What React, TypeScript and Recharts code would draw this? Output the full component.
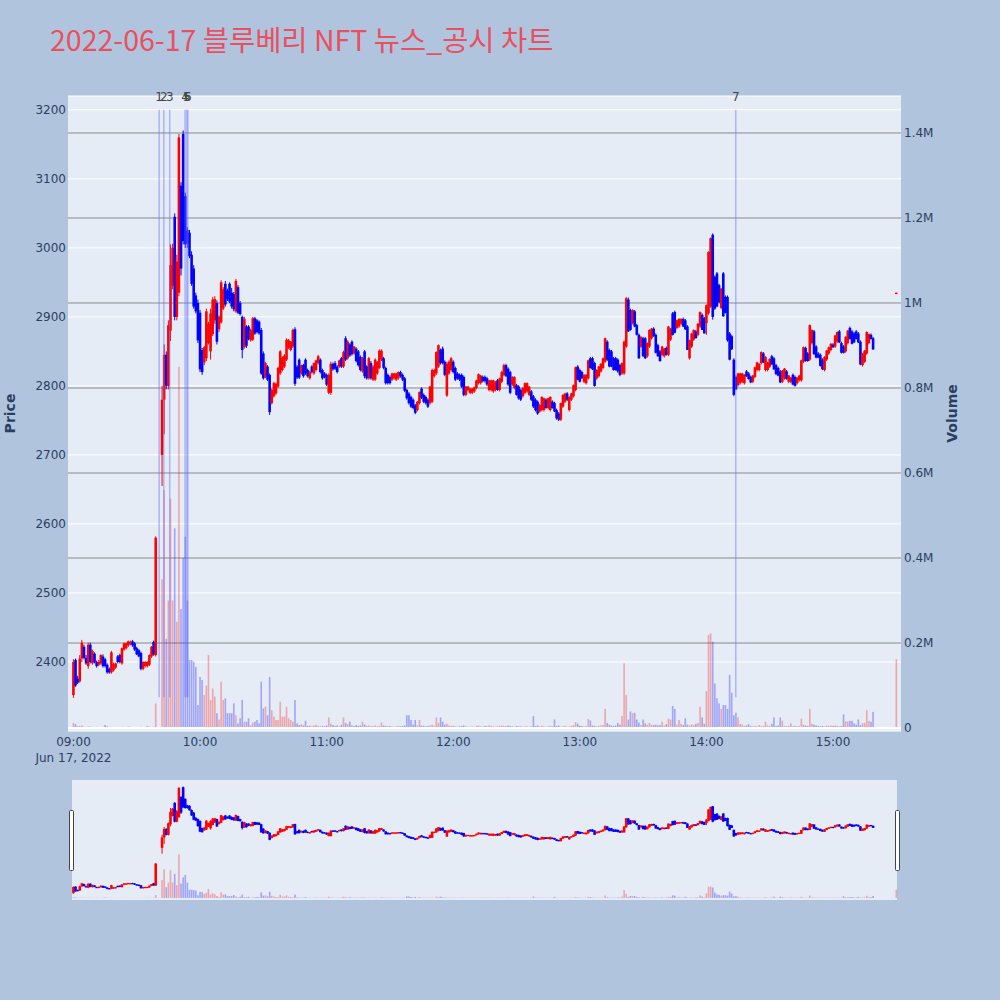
import { ComposedChart, Bar, XAxis, YAxis, CartesianGrid, ReferenceLine } from "recharts";

// [minute of hour, open, high, low, close, volume (thousand shares)]
type Candle = [number, number, number, number, number, number];

const h09: Candle[] = [
  [0, 2352, 2404, 2348, 2400, 12], [1, 2403, 2405, 2364, 2366, 9], [2, 2376, 2380, 2368, 2370, 4],
  [3, 2372, 2410, 2370, 2405, 5], [4, 2405, 2432, 2400, 2428, 6], [5, 2422, 2425, 2404, 2406, 3],
  [6, 2406, 2410, 2396, 2398, 2], [7, 2394, 2428, 2390, 2425, 4], [8, 2425, 2428, 2398, 2400, 3],
  [9, 2398, 2418, 2396, 2416, 2], [10, 2412, 2414, 2398, 2400, 2], [11, 2400, 2402, 2392, 2394, 3],
  [12, 2396, 2403, 2394, 2400, 2], [13, 2398, 2411, 2396, 2410, 2], [14, 2408, 2411, 2392, 2394, 3],
  [15, 2404, 2406, 2392, 2394, 7], [16, 2396, 2398, 2383, 2385, 4], [17, 2390, 2392, 2383, 2385, 2],
  [18, 2385, 2416, 2383, 2414, 3], [19, 2388, 2399, 2386, 2397, 2], [20, 2392, 2399, 2390, 2398, 2],
  [21, 2408, 2410, 2398, 2400, 2], [22, 2410, 2412, 2398, 2400, 2], [23, 2398, 2421, 2396, 2420, 3],
  [24, 2418, 2428, 2416, 2427, 3], [25, 2420, 2428, 2418, 2427, 2], [26, 2424, 2431, 2422, 2430, 4],
  [27, 2426, 2431, 2424, 2429, 3], [28, 2430, 2432, 2422, 2424, 2], [29, 2427, 2429, 2416, 2418, 2],
  [30, 2420, 2422, 2410, 2411, 2], [31, 2417, 2419, 2407, 2408, 2], [32, 2413, 2415, 2388, 2390, 3],
  [33, 2390, 2401, 2388, 2400, 2], [34, 2394, 2401, 2392, 2400, 2], [35, 2394, 2401, 2392, 2400, 5],
  [36, 2396, 2411, 2394, 2410, 3], [37, 2408, 2423, 2406, 2422, 2], [38, 2429, 2431, 2409, 2411, 3],
  [39, 2410, 2582, 2408, 2580, 58],
  [42, 2700, 2800, 2655, 2780, 350], [43, 2780, 2860, 2730, 2845, 560], [44, 2845, 2850, 2795, 2800, 210],
  [45, 2800, 2895, 2795, 2888, 300], [46, 2880, 3005, 2865, 2975, 540], [47, 2945, 3006, 2940, 3000, 300],
  [48, 3045, 3050, 2895, 2900, 470], [49, 2900, 2990, 2895, 2980, 250], [50, 2935, 3165, 2930, 3160, 850],
  [51, 3090, 3095, 2960, 2970, 280], [52, 3165, 3170, 3005, 3010, 400], [53, 3075, 3080, 3000, 3005, 450],
  [54, 3026, 3030, 3000, 3006, 300], [55, 3022, 3026, 2985, 2988, 160], [56, 2990, 2995, 2945, 2948, 160],
  [57, 2970, 2975, 2912, 2915, 156], [58, 2931, 2935, 2905, 2908, 144], [59, 2920, 2925, 2862, 2866, 54],
];

const h10: Candle[] = [
  [0, 2906, 2910, 2820, 2824, 120], [1, 2852, 2855, 2816, 2820, 113], [2, 2834, 2858, 2830, 2856, 78],
  [3, 2840, 2912, 2836, 2908, 100], [4, 2862, 2893, 2860, 2890, 172], [5, 2850, 2912, 2838, 2905, 66],
  [6, 2875, 2929, 2872, 2925, 93], [7, 2895, 2930, 2890, 2926, 74], [8, 2920, 2924, 2860, 2864, 35],
  [9, 2882, 2902, 2878, 2900, 20], [10, 2892, 2953, 2890, 2950, 109], [11, 2912, 2943, 2910, 2940, 66],
  [12, 2948, 2952, 2915, 2918, 70], [13, 2938, 2941, 2923, 2926, 35], [14, 2948, 2950, 2920, 2922, 35],
  [15, 2935, 2942, 2912, 2915, 35], [16, 2933, 2936, 2908, 2911, 58], [17, 2908, 2955, 2906, 2952, 30],
  [18, 2943, 2946, 2904, 2906, 11], [19, 2920, 2923, 2902, 2904, 23], [20, 2900, 2902, 2840, 2852, 66],
  [21, 2856, 2900, 2854, 2897, 15], [22, 2886, 2888, 2855, 2858, 15], [23, 2886, 2888, 2866, 2868, 23],
  [24, 2866, 2883, 2864, 2881, 7], [25, 2867, 2900, 2865, 2898, 13], [26, 2898, 2900, 2874, 2876, 15],
  [27, 2895, 2897, 2876, 2878, 19], [28, 2893, 2895, 2874, 2876, 11], [29, 2881, 2884, 2816, 2818, 109],
  [30, 2847, 2850, 2809, 2811, 46], [31, 2813, 2835, 2811, 2833, 50], [32, 2828, 2830, 2807, 2809, 30],
  [33, 2816, 2818, 2758, 2762, 120], [34, 2775, 2796, 2773, 2794, 42], [35, 2785, 2806, 2783, 2804, 27],
  [36, 2789, 2805, 2787, 2803, 19], [37, 2799, 2828, 2797, 2826, 19], [38, 2818, 2852, 2816, 2850, 62],
  [39, 2823, 2843, 2821, 2841, 27], [40, 2828, 2846, 2826, 2844, 27], [41, 2838, 2869, 2836, 2867, 50],
  [42, 2855, 2868, 2853, 2866, 23], [43, 2852, 2865, 2850, 2864, 19], [44, 2857, 2883, 2855, 2881, 15],
  [45, 2882, 2885, 2800, 2803, 66], [46, 2828, 2830, 2810, 2812, 11], [47, 2838, 2840, 2810, 2812, 7],
  [48, 2818, 2831, 2816, 2830, 9], [49, 2830, 2832, 2812, 2814, 6], [50, 2838, 2840, 2816, 2818, 17],
  [51, 2823, 2825, 2812, 2814, 5], [52, 2811, 2822, 2809, 2820, 6], [53, 2828, 2830, 2818, 2820, 4],
  [54, 2818, 2834, 2816, 2833, 6], [55, 2823, 2838, 2821, 2837, 8], [56, 2833, 2845, 2831, 2843, 5],
  [57, 2838, 2840, 2818, 2820, 4], [58, 2823, 2825, 2809, 2811, 5], [59, 2818, 2820, 2811, 2813, 4],
];

const h11: Candle[] = [
  [0, 2816, 2818, 2800, 2802, 6], [1, 2790, 2818, 2788, 2816, 25], [2, 2790, 2835, 2787, 2832, 10],
  [3, 2832, 2834, 2822, 2824, 7], [4, 2833, 2836, 2823, 2825, 5], [5, 2828, 2830, 2818, 2820, 6],
  [6, 2828, 2838, 2826, 2837, 4], [7, 2840, 2842, 2826, 2828, 8], [8, 2828, 2851, 2826, 2849, 25],
  [9, 2869, 2872, 2836, 2838, 12], [10, 2840, 2866, 2838, 2864, 9], [11, 2860, 2862, 2842, 2844, 15],
  [12, 2864, 2866, 2844, 2846, 6], [13, 2847, 2858, 2845, 2857, 5], [14, 2854, 2856, 2834, 2836, 7],
  [15, 2850, 2852, 2828, 2830, 5], [16, 2842, 2844, 2821, 2823, 6], [17, 2821, 2842, 2819, 2840, 15],
  [18, 2850, 2852, 2811, 2814, 8], [19, 2828, 2830, 2809, 2811, 5], [20, 2811, 2842, 2809, 2840, 6],
  [21, 2833, 2836, 2809, 2811, 4], [22, 2809, 2830, 2807, 2828, 5], [23, 2809, 2840, 2807, 2838, 6],
  [24, 2818, 2836, 2816, 2835, 4], [25, 2826, 2853, 2824, 2851, 5], [26, 2838, 2853, 2836, 2851, 13],
  [27, 2840, 2842, 2824, 2826, 6], [28, 2826, 2828, 2802, 2804, 5], [29, 2816, 2818, 2802, 2804, 4],
  [30, 2813, 2815, 2802, 2804, 5], [31, 2809, 2819, 2807, 2818, 4], [32, 2811, 2819, 2809, 2818, 3],
  [33, 2809, 2819, 2807, 2818, 4], [34, 2811, 2821, 2809, 2820, 5], [35, 2820, 2822, 2812, 2814, 4],
  [36, 2816, 2818, 2807, 2809, 5], [37, 2811, 2813, 2791, 2793, 6], [38, 2794, 2796, 2780, 2782, 30],
  [39, 2789, 2791, 2773, 2775, 30], [40, 2784, 2786, 2768, 2770, 19], [41, 2780, 2782, 2766, 2768, 8],
  [42, 2772, 2774, 2759, 2761, 19], [43, 2765, 2778, 2763, 2777, 6], [44, 2775, 2792, 2773, 2791, 19],
  [45, 2796, 2798, 2781, 2783, 6], [46, 2787, 2789, 2775, 2777, 5], [47, 2784, 2786, 2773, 2775, 4],
  [48, 2780, 2782, 2768, 2770, 5], [49, 2775, 2800, 2773, 2799, 6], [50, 2777, 2825, 2775, 2823, 8],
  [51, 2814, 2825, 2812, 2823, 5], [52, 2818, 2850, 2816, 2849, 25], [53, 2828, 2860, 2826, 2859, 12],
  [54, 2852, 2854, 2831, 2833, 25], [55, 2854, 2857, 2831, 2833, 15], [56, 2835, 2837, 2814, 2816, 8],
  [57, 2786, 2835, 2784, 2832, 10], [58, 2818, 2837, 2816, 2835, 6], [59, 2823, 2842, 2821, 2840, 5],
];

const h12: Candle[] = [
  [0, 2835, 2837, 2818, 2820, 5], [1, 2826, 2828, 2807, 2809, 4], [2, 2818, 2820, 2809, 2811, 3],
  [3, 2816, 2818, 2807, 2809, 4], [4, 2816, 2818, 2797, 2799, 5], [5, 2813, 2815, 2785, 2787, 6],
  [6, 2787, 2800, 2785, 2799, 4], [7, 2794, 2800, 2792, 2799, 3], [8, 2790, 2797, 2788, 2796, 3],
  [9, 2790, 2797, 2788, 2796, 4], [10, 2792, 2799, 2790, 2798, 3], [11, 2797, 2809, 2795, 2808, 5],
  [12, 2804, 2818, 2802, 2817, 6], [13, 2804, 2816, 2802, 2815, 4], [14, 2813, 2815, 2805, 2807, 3],
  [15, 2813, 2815, 2805, 2807, 5], [16, 2811, 2813, 2800, 2802, 4], [17, 2794, 2809, 2792, 2808, 6],
  [18, 2794, 2809, 2792, 2808, 5], [19, 2792, 2809, 2790, 2808, 4], [20, 2794, 2807, 2792, 2806, 3],
  [21, 2808, 2810, 2793, 2794, 4], [22, 2794, 2812, 2792, 2811, 5], [23, 2806, 2822, 2804, 2820, 6],
  [24, 2816, 2832, 2814, 2830, 5], [25, 2830, 2832, 2813, 2814, 4], [26, 2825, 2827, 2800, 2802, 6],
  [27, 2820, 2822, 2788, 2790, 5], [28, 2802, 2814, 2800, 2813, 4], [29, 2797, 2814, 2795, 2813, 3],
  [30, 2801, 2803, 2786, 2787, 5], [31, 2799, 2801, 2780, 2782, 4], [32, 2794, 2796, 2778, 2780, 4],
  [33, 2785, 2798, 2783, 2797, 3], [34, 2790, 2805, 2788, 2804, 4], [35, 2792, 2805, 2790, 2804, 4],
  [36, 2787, 2800, 2785, 2799, 3], [37, 2792, 2794, 2778, 2780, 4], [38, 2785, 2787, 2768, 2770, 28],
  [39, 2780, 2782, 2763, 2765, 5], [40, 2777, 2779, 2758, 2760, 6], [41, 2763, 2774, 2761, 2772, 4],
  [42, 2765, 2785, 2763, 2784, 5], [43, 2765, 2783, 2763, 2782, 4], [44, 2780, 2782, 2767, 2768, 3],
  [45, 2768, 2783, 2766, 2782, 4], [46, 2765, 2785, 2763, 2784, 5], [47, 2777, 2779, 2767, 2768, 4],
  [48, 2775, 2777, 2762, 2763, 20], [49, 2765, 2767, 2751, 2753, 5], [50, 2760, 2762, 2749, 2751, 6],
  [51, 2751, 2776, 2749, 2775, 3], [52, 2770, 2788, 2768, 2787, 4], [53, 2777, 2790, 2775, 2789, 5],
  [54, 2789, 2791, 2778, 2780, 3], [55, 2765, 2785, 2763, 2784, 4], [56, 2780, 2790, 2778, 2789, 5],
  [57, 2785, 2802, 2783, 2801, 6], [58, 2794, 2828, 2792, 2827, 14], [59, 2828, 2830, 2808, 2809, 10],
];

const h13: Candle[] = [
  [0, 2823, 2825, 2805, 2806, 5], [1, 2820, 2822, 2810, 2811, 5], [2, 2806, 2817, 2804, 2816, 4],
  [3, 2804, 2817, 2802, 2816, 5], [4, 2811, 2838, 2809, 2837, 21], [5, 2840, 2842, 2825, 2826, 18],
  [6, 2840, 2842, 2823, 2824, 6], [7, 2833, 2835, 2799, 2800, 5], [8, 2811, 2824, 2809, 2823, 4],
  [9, 2814, 2829, 2812, 2828, 5], [10, 2821, 2833, 2819, 2832, 6], [11, 2826, 2841, 2824, 2840, 7],
  [12, 2835, 2870, 2833, 2869, 45], [13, 2864, 2866, 2836, 2838, 12], [14, 2852, 2854, 2827, 2828, 8],
  [15, 2850, 2852, 2827, 2828, 6], [16, 2840, 2842, 2822, 2823, 5], [17, 2840, 2842, 2822, 2823, 6],
  [18, 2838, 2840, 2819, 2821, 12], [19, 2830, 2832, 2814, 2816, 8], [20, 2818, 2834, 2816, 2833, 28],
  [21, 2818, 2866, 2816, 2864, 152], [22, 2857, 2929, 2855, 2927, 78], [23, 2925, 2928, 2878, 2879, 20],
  [24, 2910, 2912, 2880, 2881, 39], [25, 2891, 2911, 2889, 2910, 35], [26, 2908, 2910, 2885, 2886, 36],
  [27, 2888, 2890, 2873, 2874, 20], [28, 2874, 2876, 2839, 2840, 13], [29, 2857, 2872, 2855, 2871, 7],
  [30, 2869, 2871, 2842, 2843, 20], [31, 2869, 2871, 2839, 2840, 11], [32, 2843, 2863, 2841, 2862, 8],
  [33, 2857, 2882, 2855, 2881, 12], [34, 2869, 2884, 2867, 2883, 8], [35, 2883, 2885, 2871, 2872, 7],
  [36, 2874, 2876, 2847, 2848, 8], [37, 2859, 2861, 2842, 2843, 6], [38, 2850, 2852, 2835, 2836, 7],
  [39, 2845, 2858, 2843, 2857, 15], [40, 2843, 2855, 2841, 2854, 6], [41, 2855, 2857, 2844, 2845, 9],
  [42, 2845, 2887, 2843, 2886, 22], [43, 2867, 2884, 2865, 2883, 20], [44, 2905, 2907, 2873, 2874, 52],
  [45, 2907, 2909, 2876, 2877, 45], [46, 2884, 2896, 2882, 2895, 8], [47, 2886, 2898, 2884, 2897, 19],
  [48, 2890, 2898, 2888, 2897, 10], [49, 2897, 2899, 2885, 2886, 7], [50, 2895, 2897, 2881, 2882, 23],
  [51, 2886, 2888, 2852, 2852, 8], [52, 2840, 2867, 2838, 2866, 6], [53, 2857, 2877, 2855, 2876, 9],
  [54, 2867, 2882, 2865, 2881, 7], [55, 2879, 2881, 2869, 2869, 10], [56, 2874, 2891, 2872, 2890, 12],
  [57, 2886, 2908, 2884, 2907, 50], [58, 2903, 2905, 2881, 2881, 25], [59, 2898, 2900, 2876, 2876, 10],
];

const h14: Candle[] = [
  [0, 2891, 2918, 2874, 2917, 87], [1, 2905, 2995, 2903, 2994, 219], [2, 2915, 3015, 2913, 3014, 223],
  [3, 3019, 3021, 2896, 2900, 203], [4, 2958, 2960, 2910, 2912, 105], [5, 2963, 2965, 2914, 2915, 70],
  [6, 2946, 2948, 2920, 2921, 58], [7, 2913, 2942, 2911, 2941, 45], [8, 2963, 2965, 2900, 2901, 54],
  [9, 2929, 2931, 2905, 2906, 54], [10, 2929, 2931, 2864, 2866, 45], [11, 2876, 2878, 2837, 2838, 125],
  [12, 2872, 2874, 2852, 2853, 83], [13, 2838, 2840, 2785, 2787, 30], [14, 2813, 2815, 2794, 2795, 36],
  [15, 2801, 2819, 2799, 2818, 25], [16, 2804, 2819, 2802, 2818, 10], [17, 2806, 2819, 2804, 2818, 8],
  [18, 2804, 2817, 2802, 2816, 5], [19, 2821, 2823, 2813, 2814, 6], [20, 2818, 2820, 2809, 2810, 9],
  [21, 2813, 2815, 2804, 2805, 5], [22, 2806, 2816, 2804, 2815, 4], [23, 2813, 2828, 2811, 2827, 5],
  [24, 2823, 2835, 2821, 2834, 4], [25, 2823, 2833, 2821, 2832, 7], [26, 2833, 2850, 2831, 2849, 5],
  [27, 2847, 2849, 2833, 2834, 4], [28, 2823, 2843, 2821, 2842, 15], [29, 2823, 2835, 2821, 2834, 6],
  [30, 2828, 2840, 2826, 2839, 5], [31, 2843, 2845, 2830, 2831, 10], [32, 2840, 2842, 2823, 2824, 25],
  [33, 2830, 2832, 2816, 2817, 5], [34, 2826, 2828, 2814, 2815, 6], [35, 2821, 2823, 2804, 2805, 25],
  [36, 2806, 2823, 2804, 2822, 17], [37, 2811, 2826, 2809, 2825, 5], [38, 2821, 2823, 2809, 2810, 4],
  [39, 2806, 2816, 2804, 2815, 5], [40, 2806, 2813, 2804, 2812, 11], [41, 2816, 2818, 2801, 2802, 4],
  [42, 2813, 2815, 2799, 2800, 5], [43, 2804, 2813, 2802, 2812, 4], [44, 2808, 2816, 2806, 2815, 5],
  [45, 2808, 2838, 2806, 2837, 22], [46, 2835, 2857, 2833, 2856, 8], [47, 2855, 2857, 2835, 2836, 6],
  [48, 2847, 2849, 2835, 2836, 5], [49, 2838, 2889, 2836, 2888, 45], [50, 2862, 2882, 2860, 2881, 10],
  [51, 2879, 2881, 2845, 2846, 8], [52, 2857, 2859, 2840, 2841, 6], [53, 2847, 2849, 2840, 2841, 5],
  [54, 2845, 2847, 2828, 2829, 4], [55, 2838, 2840, 2823, 2824, 5], [56, 2823, 2843, 2821, 2842, 4],
  [57, 2838, 2852, 2836, 2851, 6], [58, 2847, 2857, 2845, 2856, 5], [59, 2852, 2862, 2850, 2861, 6],
];

const h15: Candle[] = [
  [0, 2860, 2862, 2855, 2856, 5], [1, 2857, 2874, 2855, 2873, 6], [2, 2864, 2879, 2862, 2878, 5],
  [3, 2879, 2881, 2862, 2863, 4], [4, 2862, 2864, 2847, 2848, 5], [5, 2857, 2859, 2847, 2848, 32],
  [6, 2850, 2872, 2848, 2871, 16], [7, 2862, 2881, 2860, 2880, 15], [8, 2884, 2886, 2867, 2868, 17],
  [9, 2879, 2881, 2860, 2861, 17], [10, 2876, 2878, 2862, 2863, 11], [11, 2879, 2881, 2867, 2868, 8],
  [12, 2876, 2878, 2862, 2863, 20], [13, 2864, 2866, 2830, 2831, 7], [14, 2830, 2848, 2828, 2847, 11],
  [15, 2835, 2852, 2833, 2851, 12], [16, 2847, 2879, 2845, 2878, 42], [17, 2862, 2876, 2860, 2875, 17],
  [18, 2874, 2876, 2867, 2868, 15], [19, 2869, 2871, 2852, 2853, 38],
  [30, 2933, 2935, 2933, 2935, 162],
];

const hours: [number, Candle[]][] = [[9, h09], [10, h10], [11, h11], [12, h12], [13, h13], [14, h14], [15, h15]];

// news / disclosure times (minutes after 09:00)
const newsTimes = [40.6, 42.8, 45.6, 52.9, 53.7, 54.2, 313.9];
const newsLabels = ["1", "2", "3", "4", "5", "6", "7"];

const priceTicks = [2400, 2500, 2600, 2700, 2800, 2900, 3000, 3100, 3200];
const volumeTicks = [0, 200000, 400000, 600000, 800000, 1000000, 1200000, 1400000];
const hourTicks = [0, 60, 120, 180, 240, 300, 360];
const hourLabels = ["09:00", "10:00", "11:00", "12:00", "13:00", "14:00", "15:00"];

const rows = hours.flatMap(([hr, list]) =>
  list.map(([mm, o, h, l, c, v]) => ({ t: (hr - 9) * 60 + mm, o, h, l, c, v: v * 1000, hl: [l, h], up: c >= o }))
);

const UP = "#ff0000";
const DOWN = "#0000ff";
const TICK = "#2a3f5f";
const FONT = "Verdana, 'DejaVu Sans', sans-serif";
const X_DOMAIN = [-2.6, 392.2];
const P_DOMAIN = [2300, 3220];
const V_DOMAIN = [-7000, 1487000];

function CandleShape(props: any) {
  const { x, y, width, height, payload } = props;
  if (x == null || y == null) return null;
  const { o, h, l, c, up } = payload;
  const cx = x + width / 2;
  const span = h - l;
  const py = (v: number) => (span === 0 ? y : y + ((h - v) / span) * height);
  const color = up ? UP : DOWN;
  const top = py(Math.max(o, c));
  const bot = py(Math.min(o, c));
  return (
    <g>
      <line x1={cx} x2={cx} y1={py(h)} y2={py(l)} stroke={color} strokeWidth={1} />
      <rect x={cx - 1.3} y={top} width={2.6} height={Math.max(bot - top, 1.2)} fill={color} />
    </g>
  );
}

function VolumeShape(props: any) {
  const { x, y, width, height, payload } = props;
  if (x == null || y == null) return null;
  const cx = x + width / 2;
  const top = Math.min(y, y + height);
  return <rect x={cx - 0.8} y={top} width={1.6} height={Math.abs(height)} fill={payload.up ? UP : DOWN} fillOpacity={0.3} />;
}

function TimeTick({ x, y, payload }: any) {
  const i = hourTicks.indexOf(payload.value);
  return (
    <g>
      <text x={x} y={y + 15} textAnchor="middle" fontSize={12} fill={TICK} fontFamily={FONT}>{hourLabels[i]}</text>
      {i === 0 && (
        <text x={x} y={y + 31} textAnchor="middle" fontSize={12} fill={TICK} fontFamily={FONT}>Jun 17, 2022</text>
      )}
    </g>
  );
}

const volFmt = (v: number) => (v === 0 ? "0" : `${+(v / 1e6).toFixed(1)}M`);

function VolumeLayer() {
  return (
    <ComposedChart width={1000} height={1000} data={rows} margin={{ top: 96, right: 0, bottom: 269, left: 68 }}>
      <XAxis xAxisId="t" dataKey="t" type="number" domain={X_DOMAIN} allowDataOverflow hide />
      <YAxis yAxisId="p" domain={P_DOMAIN} ticks={priceTicks} allowDataOverflow hide />
      <YAxis
        yAxisId="v" orientation="right" width={99} domain={V_DOMAIN} ticks={volumeTicks} allowDataOverflow
        tickFormatter={volFmt} axisLine={false} tickLine={false} tickSize={0} tickMargin={3}
        tick={{ fontSize: 12, fill: TICK, fontFamily: FONT }}
        label={{ value: "Volume", angle: -90, position: "insideRight", offset: 48, fill: TICK, fontSize: 14, fontWeight: "bold", fontFamily: FONT, textAnchor: "middle" }}
      />
      <CartesianGrid xAxisId="t" yAxisId="p" vertical={false} stroke="#ffffff" fill="#e5ecf6" />
      <CartesianGrid xAxisId="t" yAxisId="v" vertical={false} stroke="#8a8a8a" horizontalValues={volumeTicks.slice(1)} />
      <ReferenceLine xAxisId="t" yAxisId="v" y={0} stroke="#ffffff" strokeWidth={2} />
      <Bar xAxisId="t" yAxisId="v" dataKey="v" barSize={2} shape={<VolumeShape />} isAnimationActive={false} />
    </ComposedChart>
  );
}

function PriceLayer() {
  return (
    <ComposedChart width={1000} height={1000} data={rows} margin={{ top: 96, right: 99, bottom: 0, left: 0 }}>
      <XAxis
        xAxisId="t" dataKey="t" type="number" domain={X_DOMAIN} ticks={hourTicks} allowDataOverflow height={269}
        axisLine={false} tickLine={false} tickSize={0} tickMargin={0} tick={<TimeTick />}
      />
      <YAxis
        yAxisId="p" width={68} domain={P_DOMAIN} ticks={priceTicks} allowDataOverflow
        axisLine={false} tickLine={false} tickSize={0} tickMargin={2}
        tick={{ fontSize: 12, fill: TICK, fontFamily: FONT }}
        label={{ value: "Price", angle: -90, position: "insideLeft", offset: 10, fill: TICK, fontSize: 14, fontWeight: "bold", fontFamily: FONT, textAnchor: "middle" }}
      />
      {newsTimes.map((t, i) => (
        <ReferenceLine
          key={newsLabels[i]} xAxisId="t" yAxisId="p"
          segment={[{ x: t, y: 2349 }, { x: t, y: 3200 }]}
          stroke="#636efa" strokeOpacity={0.45} strokeWidth={1.5}
          label={{ value: newsLabels[i], position: "top", offset: 9, fill: "#444", fontSize: 12, fontFamily: FONT }}
        />
      ))}
      <Bar xAxisId="t" yAxisId="p" dataKey="hl" barSize={2} shape={<CandleShape />} isAnimationActive={false} />
    </ComposedChart>
  );
}

const SLIDER_V_DOMAIN = [-40000, 2300000];

function SliderVolume() {
  return (
    <ComposedChart width={1000} height={120} data={rows} margin={{ top: 0, right: 99, bottom: 0, left: 68 }}>
      <XAxis xAxisId="t" dataKey="t" type="number" domain={X_DOMAIN} allowDataOverflow hide />
      <YAxis yAxisId="v" domain={SLIDER_V_DOMAIN} allowDataOverflow hide />
      <Bar xAxisId="t" yAxisId="v" dataKey="v" barSize={2} shape={<VolumeShape />} isAnimationActive={false} />
    </ComposedChart>
  );
}

function SliderPrice() {
  return (
    <ComposedChart width={1000} height={120} data={rows} margin={{ top: 0, right: 99, bottom: 0, left: 68 }}>
      <XAxis xAxisId="t" dataKey="t" type="number" domain={X_DOMAIN} allowDataOverflow hide />
      <YAxis yAxisId="p" domain={P_DOMAIN} allowDataOverflow hide />
      <Bar xAxisId="t" yAxisId="p" dataKey="hl" barSize={2} shape={<CandleShape />} isAnimationActive={false} />
    </ComposedChart>
  );
}

const layer = { position: "absolute" as const, left: 0, top: 0 };

export default function App() {
  return (
    <div style={{ position: "absolute", left: 0, top: 0, width: 1000, height: 1000, background: "#b0c4de", overflow: "hidden" }}>
      <svg width={1000} height={1000} style={layer}>
        <text x={50} y={51} fontSize={28.5} fill="#e9505f" fontFamily="'Noto Sans CJK KR', sans-serif">
          2022-06-17 블루베리 NFT 뉴스_공시 차트
        </text>
        <rect x={72} y={780} width={825} height={120} fill="#e5ecf6" />
      </svg>
      <div style={layer}><VolumeLayer /></div>
      <div style={layer}><PriceLayer /></div>
      <div style={{ ...layer, top: 780 }}><SliderVolume /></div>
      <div style={{ ...layer, top: 780 }}><SliderPrice /></div>
      <svg width={1000} height={1000} style={{ ...layer, pointerEvents: "none" }}>
        <rect x={69.5} y={810.5} width={4} height={60} rx={1} fill="#ffffff" stroke="#444" strokeWidth={1} />
        <rect x={895.5} y={810.5} width={4} height={60} rx={1} fill="#ffffff" stroke="#444" strokeWidth={1} />
      </svg>
    </div>
  );
}
